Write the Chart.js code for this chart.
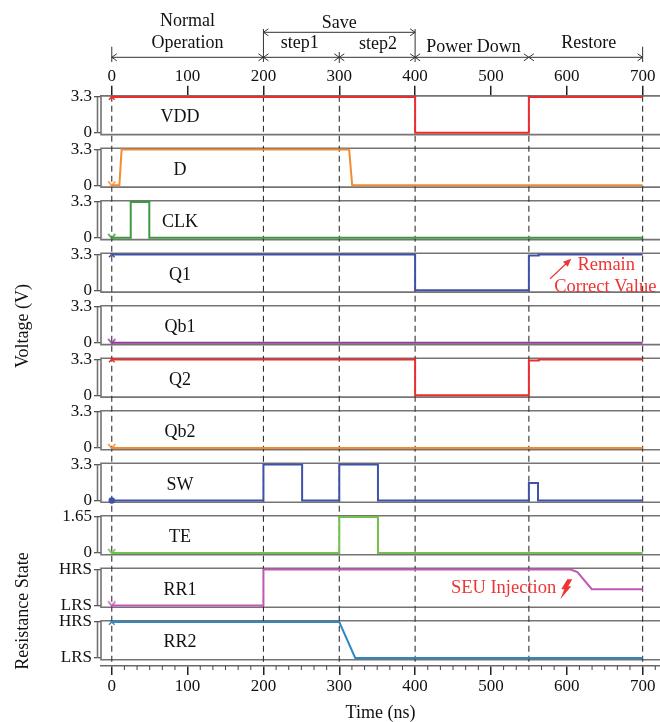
<!DOCTYPE html>
<html>
<head>
<meta charset="utf-8">
<script src="https://cdn.jsdelivr.net/npm/chart.js@4.4.1/dist/chart.umd.min.js"></script>
<style>
  html, body { margin: 0; padding: 0; background: #fff; }
  #wrap { width: 660px; height: 722px; position: relative; }
</style>
</head>
<body>
<div id="wrap"><canvas id="c"></canvas></div>
<script>
// ============ DATOS ============
const xTicks = [0, 100, 200, 300, 400, 500, 600, 700];
const phaseMarks = [0, 200, 300, 400, 550, 700];

const vddT = [0, 400, 400, 550, 550, 700];
const vddV = [3.3, 3.3, 0, 0, 3.3, 3.3];
const dT = [0, 10, 13, 313, 317, 700];
const dV = [0, 0, 3.3, 3.3, 0, 0];
const clkT = [0, 25, 25, 49.5, 49.5, 700];
const clkV = [0, 0, 3.3, 3.3, 0, 0];
const q1T = [0, 400, 400, 550, 550, 563, 563, 700];
const q1V = [3.3, 3.3, 0, 0, 3.2, 3.2, 3.3, 3.3];
const qb1T = [0, 700];
const qb1V = [0, 0];
const q2T = [0, 400, 400, 550, 550, 563, 563, 700];
const q2V = [3.3, 3.3, 0, 0, 3.2, 3.2, 3.3, 3.3];
const qb2T = [0, 700];
const qb2V = [0, 0];
const swT = [0, 200, 200, 251, 251, 300, 300, 351, 351, 550, 550, 562, 562, 700];
const swV = [0, 0, 3.3, 3.3, 0, 0, 3.3, 3.3, 0, 0, 1.6, 1.6, 0, 0];
const teT = [0, 300, 300, 351, 351, 700];
const teV = [0, 0, 1.65, 1.65, 0, 0];
// resistance: 0 = LRS, 1 = HRS
const rr1T = [0, 200, 200, 605, 614, 633, 700];
const rr1V = [0, 0, 1, 1, 0.93, 0.45, 0.45];
const rr2T = [0, 300, 321, 700];
const rr2V = [1, 1, 0, 0];

const names = ['VDD', 'D', 'CLK', 'Q1', 'Qb1', 'Q2', 'Qb2', 'SW', 'TE', 'RR1', 'RR2'];
const times = [vddT, dT, clkT, q1T, qb1T, q2T, qb2T, swT, teT, rr1T, rr2T];
const values = [vddV, dV, clkV, q1V, qb1V, q2V, qb2V, swV, teV, rr1V, rr2V];
const fullScale = [3.3, 3.3, 3.3, 3.3, 3.3, 3.3, 3.3, 3.3, 1.65, 1, 1];
const voltTicks = ['0', '3.3'];
const teTicks = ['0', '1.65'];
const resTicks = ['LRS', 'HRS'];

// ============ ESTILO ============
const SERIF = "'Liberation Serif', 'Times New Roman', serif";
const colors = ['#ec2d2d', '#f28b32', '#3d9a3d', '#4051a8', '#8f3d96', '#ec2d2d', '#f28b32', '#4051a8', '#72c04c', '#c258b6', '#2f87c4'];
const markers = ['x', 'v', 'v', 'x', 'v', 'x', 'v', 'dot', 'v', 'v', 'x'];
const PITCH = 52.6, LAST_SLOT = 45.3, FRAME_H = 39, TOP_GAP = 1.2, SPAN_H = 36;
const RED = '#ee3434';

function vMarker(color) {
  const c = document.createElement('canvas');
  c.width = 9; c.height = 10;
  const g = c.getContext('2d');
  g.strokeStyle = color; g.lineWidth = 1.5;
  g.beginPath(); g.moveTo(1, 1); g.lineTo(4.5, 5.5); g.lineTo(8, 1); g.stroke();
  return c;
}

function tickLabelsFor(i) {
  if (fullScale[i] === 1) return resTicks;
  if (fullScale[i] === 1.65) return teTicks;
  return voltTicks;
}

// ============ ESCALAS ============
const scales = {
  x: {
    type: 'linear', position: 'bottom', min: -14.2, max: 722.9,
    afterBuildTicks: s => { s.ticks = xTicks.map(v => ({ value: v })); },
    afterFit: s => { s.height = 56; },
    ticks: { font: { family: SERIF, size: 17, lineHeight: 1 }, color: '#111', padding: 3, maxRotation: 0, autoSkip: false },
    grid: { drawOnChartArea: false, tickLength: 9, color: '#222', lineWidth: 1.5 },
    border: { color: '#6a6a6a', width: 1.6 },
    title: { display: true, text: 'Time (ns)', font: { family: SERIF, size: 18, lineHeight: 1 }, color: '#111', padding: 0 }
  },
  xTop: {
    type: 'linear', position: 'top', min: -14.2, max: 722.9,
    afterBuildTicks: s => { s.ticks = xTicks.map(v => ({ value: v })); },
    afterFit: s => { s.height = 95.7; },
    ticks: { font: { family: SERIF, size: 17, lineHeight: 1 }, color: '#111', padding: 1, maxRotation: 0, autoSkip: false },
    grid: { drawOnChartArea: false, tickLength: 10, color: '#222', lineWidth: 1.5 },
    border: { color: '#6a6a6a', width: 1.6 }
  }
};

names.forEach((n, i) => {
  const fs = fullScale[i];
  const slot = i < names.length - 1 ? PITCH : LAST_SLOT;
  const max = fs * (1 + TOP_GAP / SPAN_H);
  const labels = tickLabelsFor(i);
  scales['y' + i] = {
    type: 'linear', position: 'left', stack: 'panels', stackWeight: slot,
    weight: 20 - i, min: max - fs * slot / SPAN_H, max: max,
    afterBuildTicks: s => { s.ticks = [{ value: 0 }, { value: fs }]; },
    afterFit: s => { s.width = 101; },
    ticks: {
      font: { family: SERIF, size: 17, lineHeight: 1 }, color: '#111', padding: 2, autoSkip: false,
      callback: (v, idx) => labels[idx]
    },
    grid: { drawOnChartArea: false, tickLength: 7, color: '#555', lineWidth: 1.3 },
    border: { display: false }
  };
});

const datasets = names.map((n, i) => ({
  label: n,
  data: times[i].map((t, j) => ({ x: t, y: values[i][j] })),
  xAxisID: 'x', yAxisID: 'y' + i,
  borderColor: colors[i], backgroundColor: colors[i], borderWidth: 2,
  tension: 0, fill: false,
  pointStyle: markers[i] === 'x' ? 'crossRot' : markers[i] === 'dot' ? 'circle' : vMarker(colors[i]),
  pointRadius: ctx => ctx.dataIndex === 0 ? (markers[i] === 'dot' ? 2.5 : 4) : 0,
  pointBorderWidth: 1.5, pointHoverRadius: 0
}));

// ============ DECORACIÓN ============
function hArrow(ctx, x1, x2, y) {
  ctx.beginPath(); ctx.moveTo(x1, y); ctx.lineTo(x2, y);
  ctx.moveTo(x1 + 5, y - 3.5); ctx.lineTo(x1, y); ctx.lineTo(x1 + 5, y + 3.5);
  ctx.moveTo(x2 - 5, y - 3.5); ctx.lineTo(x2, y); ctx.lineTo(x2 - 5, y + 3.5);
  ctx.stroke();
}
function vBar(ctx, x, y1, y2) {
  ctx.beginPath(); ctx.moveTo(x, y1); ctx.lineTo(x, y2); ctx.stroke();
}

const decor = {
  id: 'decor',
  beforeDatasetsDraw(chart) {
    const { ctx, chartArea: a, scales: sc } = chart;
    const X = t => sc.x.getPixelForValue(t);
    ctx.save();
    ctx.strokeStyle = '#747474'; ctx.lineWidth = 1.6;
    names.forEach((n, i) => {
      const s = sc['y' + i];
      const slot = i < names.length - 1 ? PITCH : LAST_SLOT;
      const k = (s.bottom - s.top) / slot;
      const top = s.top, bot = s.top + FRAME_H * k;
      ctx.beginPath();
      ctx.moveTo(a.right, top); ctx.lineTo(a.left, top); ctx.lineTo(a.left, bot); ctx.lineTo(a.right, bot);
      ctx.stroke();
      vBar(ctx, a.left - 3.5, s.getPixelForValue(fullScale[i]), s.getPixelForValue(0));
    });
    ctx.strokeStyle = '#333'; ctx.lineWidth = 1.1; ctx.setLineDash([6, 4]);
    phaseMarks.forEach(t => vBar(ctx, X(t), a.top, a.bottom));
    ctx.restore();
  },
  afterDraw(chart) {
    const { ctx, chartArea: a, scales: sc } = chart;
    const X = t => sc.x.getPixelForValue(t);
    ctx.save();
    // minor ticks on the time axis
    ctx.strokeStyle = '#444'; ctx.lineWidth = 1;
    for (let t = 0; t <= 720; t += 100 / 6) {
      if (Math.abs(t / 100 - Math.round(t / 100)) < 0.01) continue;
      vBar(ctx, X(t), a.bottom, a.bottom + 4);
    }
    // phase annotations on top
    ctx.strokeStyle = '#333'; ctx.lineWidth = 1;
    hArrow(ctx, X(0), X(200), 57.3);
    hArrow(ctx, X(200), X(300), 57.3);
    hArrow(ctx, X(300), X(400), 57.3);
    hArrow(ctx, X(400), X(550), 57.3);
    hArrow(ctx, X(550), X(700), 57.3);
    hArrow(ctx, X(200), X(400), 32.3);
    vBar(ctx, X(0), 46.7, 62);
    vBar(ctx, X(200), 29, 62);
    vBar(ctx, X(300), 52, 63);
    vBar(ctx, X(400), 29, 62);
    vBar(ctx, X(700), 46.7, 62);

    ctx.fillStyle = '#111';
    ctx.font = '18px ' + SERIF;
    ctx.textAlign = 'center'; ctx.textBaseline = 'middle';
    ctx.fillText('Normal', X(100), 21);
    ctx.fillText('Operation', X(100), 43.5);
    ctx.fillText('Save', X(300), 23.5);
    ctx.fillText('step1', X(248), 43);
    ctx.fillText('step2', X(351), 44);
    ctx.fillText('Power Down', X(477), 47.5);
    ctx.fillText('Restore', X(629), 43);

    // panel names
    names.forEach((n, i) => {
      const s = sc['y' + i];
      const slot = i < names.length - 1 ? PITCH : LAST_SLOT;
      const k = (s.bottom - s.top) / slot;
      ctx.fillText(n, X(90), s.top + 22 * k);
    });

    // axis titles
    ctx.save();
    ctx.translate(23, 326); ctx.rotate(-Math.PI / 2);
    ctx.fillText('Voltage (V)', 0, 0);
    ctx.restore();
    ctx.save();
    ctx.translate(23, 611); ctx.rotate(-Math.PI / 2);
    ctx.fillText('Resistance State', 0, 0);
    ctx.restore();

    // red notes
    const yQ1 = sc.y3, yR1 = sc.y9;
    ctx.fillStyle = RED; ctx.strokeStyle = RED;
    ctx.font = '18.5px ' + SERIF;
    ctx.fillText('Remain', X(652), yQ1.getPixelForValue(2.27));
    ctx.textAlign = 'left';
    ctx.fillText('Correct Value', X(583.4), yQ1.getPixelForValue(0.25));
    ctx.textAlign = 'center';
    ctx.fillText('SEU Injection', X(516.6), yR1.getPixelForValue(0.48));

    const ax1 = X(578), ay1 = yQ1.getPixelForValue(1.07);
    const ax2 = X(605.8), ay2 = yQ1.getPixelForValue(2.9);
    const ang = Math.atan2(ay2 - ay1, ax2 - ax1);
    ctx.lineWidth = 1.2;
    ctx.beginPath(); ctx.moveTo(ax1, ay1); ctx.lineTo(ax2 - 5 * Math.cos(ang), ay2 - 5 * Math.sin(ang)); ctx.stroke();
    ctx.beginPath();
    ctx.moveTo(ax2, ay2);
    ctx.lineTo(ax2 - 8 * Math.cos(ang) + 3.5 * Math.sin(ang), ay2 - 8 * Math.sin(ang) - 3.5 * Math.cos(ang));
    ctx.lineTo(ax2 - 8 * Math.cos(ang) - 3.5 * Math.sin(ang), ay2 - 8 * Math.sin(ang) + 3.5 * Math.cos(ang));
    ctx.closePath(); ctx.fill();

    // lightning bolt
    const bx = X(598), by = yR1.getPixelForValue(0.45);
    const bolt = [[2, -10], [7, -10], [3, -3], [6, -3], [-5, 10], [-1, 0], [-4, 0]];
    ctx.beginPath();
    bolt.forEach(([px, py], j) => j ? ctx.lineTo(bx + px, by + py) : ctx.moveTo(bx + px, by + py));
    ctx.closePath(); ctx.fill();
    ctx.restore();
  }
};

new Chart(document.getElementById('c'), {
  type: 'line',
  data: { datasets },
  options: {
    responsive: true, maintainAspectRatio: false, animation: false,
    devicePixelRatio: 1,
    layout: { padding: 0, autoPadding: false },
    plugins: { legend: { display: false }, tooltip: { enabled: false } },
    events: [],
    scales
  },
  plugins: [decor]
});
</script>
</body>
</html>
